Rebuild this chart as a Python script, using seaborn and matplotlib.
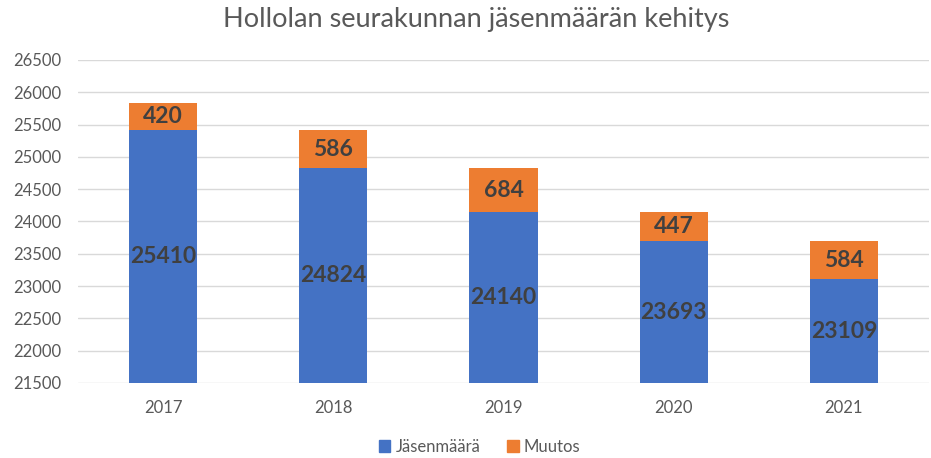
import matplotlib.pyplot as plt
import matplotlib.patches as mpatches
import seaborn as sns
import pandas as pd

# chart data
years = ['2017', '2018', '2019', '2020', '2021']
jasenmaara = [25410, 24824, 24140, 23693, 23109]
muutos = [420, 586, 684, 447, 584]
y_ticks = [21500, 22000, 22500, 23000, 23500, 24000, 24500, 25000, 25500, 26000, 26500]

blue = '#4472C4'
orange = '#ED7D31'
gray = '#595959'

sns.set_theme(style='white')
plt.rcParams['font.family'] = ['Lato', 'DejaVu Sans']

df = pd.DataFrame({'vuosi': years, 'jasen': jasenmaara, 'muutos': muutos})
df['yht'] = df['jasen'] + df['muutos']

fig = plt.figure(figsize=(9.31, 4.58), dpi=100)
ax = fig.add_axes([78 / 931, 1 - 383 / 458, (929 - 78) / 931, (383 - 60) / 458])

# stacked bars: total (orange) drawn first, members (blue) on top
sns.barplot(data=df, x='vuosi', y='yht', color=orange, width=0.4, saturation=1,
            linewidth=0, ax=ax, zorder=2)
sns.barplot(data=df, x='vuosi', y='jasen', color=blue, width=0.4, saturation=1,
            linewidth=0, ax=ax, zorder=3)

ymin, ymax = y_ticks[0], y_ticks[-1]
ax.set_ylim(ymin, ymax)
ax.set_xlim(-0.5, 4.5)
ax.set_yticks(y_ticks)
ax.set_yticklabels([str(t) for t in y_ticks])
ax.grid(axis='y', color='#D9D9D9', linewidth=1, zorder=0)
ax.set_axisbelow(True)
for s in ax.spines.values():
    s.set_visible(False)
ax.tick_params(axis='y', length=0, pad=12, labelsize=12, labelcolor=gray)
ax.tick_params(axis='x', length=0, pad=12, labelsize=12, labelcolor=gray)
ax.set_xlabel('')
ax.set_ylabel('')

# value labels
for i, row in df.iterrows():
    ax.text(i, (ymin + row['jasen']) / 2, str(row['jasen']), ha='center', va='center',
            fontsize=16.5, fontweight='bold', color='#404040', zorder=5)
    ax.text(i, row['jasen'] + row['muutos'] / 2, str(row['muutos']), ha='center', va='center',
            fontsize=16.5, fontweight='bold', color='#404040', zorder=5)

fig.suptitle('Hollolan seurakunnan jäsenmäärän kehitys', x=0.511, y=0.985, fontsize=19.5,
             color=gray, fontweight='normal')

handles = [mpatches.Patch(color=blue, label='Jäsenmäärä'),
           mpatches.Patch(color=orange, label='Muutos')]
fig.legend(handles=handles, loc='center', bbox_to_anchor=(0.515, 1 - 447 / 458), ncol=2,
           frameon=False, fontsize=12, labelcolor=gray, handlelength=0.7, handleheight=0.7,
           handletextpad=0.3, columnspacing=1.6)

fig.savefig('out.png', dpi=100)
